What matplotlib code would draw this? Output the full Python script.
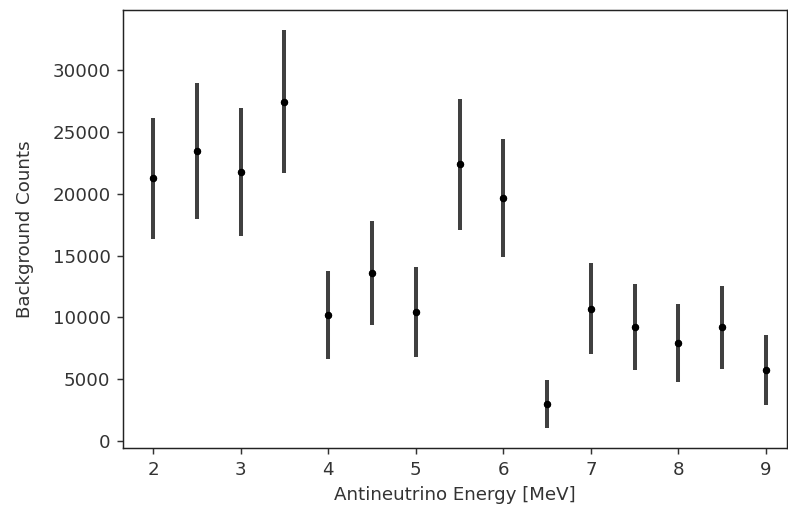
import numpy as np
import matplotlib
matplotlib.use("Agg")
import matplotlib.pyplot as plt

# energy bins [MeV]
energia = [2, 2.5, 3, 3.5, 4, 4.5, 5, 5.5, 6, 6.5, 7, 7.5, 8, 8.5, 9]
# background counts
taust = [21250, 23500, 21750, 27450, 10200, 13600, 10450, 22400, 19650,
         2970, 10700, 9180, 7900, 9180, 5730]
vead = [4900, 5500, 5200, 5800, 3580, 4200, 3650, 5300, 4800,
        1950, 3700, 3480, 3150, 3380, 2850]

hall = '#333333'
plt.rcParams['text.color'] = hall
plt.rcParams['axes.labelcolor'] = hall
plt.rcParams['xtick.color'] = hall
plt.rcParams['ytick.color'] = hall
plt.rcParams['axes.edgecolor'] = '#222222'

dpi = 131.33
fig = plt.figure(figsize=(788/dpi, 514/dpi), dpi=dpi)
ax = fig.add_axes([123.3/788, 1-448.3/514, (787-123.3)/788, (448.3-10)/514])

ax.errorbar(energia, taust, yerr=vead, fmt='k.', ecolor='k',
            elinewidth=2.2, alpha=0.75)
ax.plot(energia, taust, 'k.', markersize=6)

ax.set_xlim(1.66, 9.24)
ax.set_ylim(-620, 34900)
ax.set_xticks(np.arange(2, 10, 1))
ax.set_yticks(np.arange(0, 35000, 5000))
ax.set_xlabel("Antineutrino Energy [MeV]")
ax.set_ylabel("Background Counts", labelpad=10)

fig.savefig("out.png", dpi=dpi)
